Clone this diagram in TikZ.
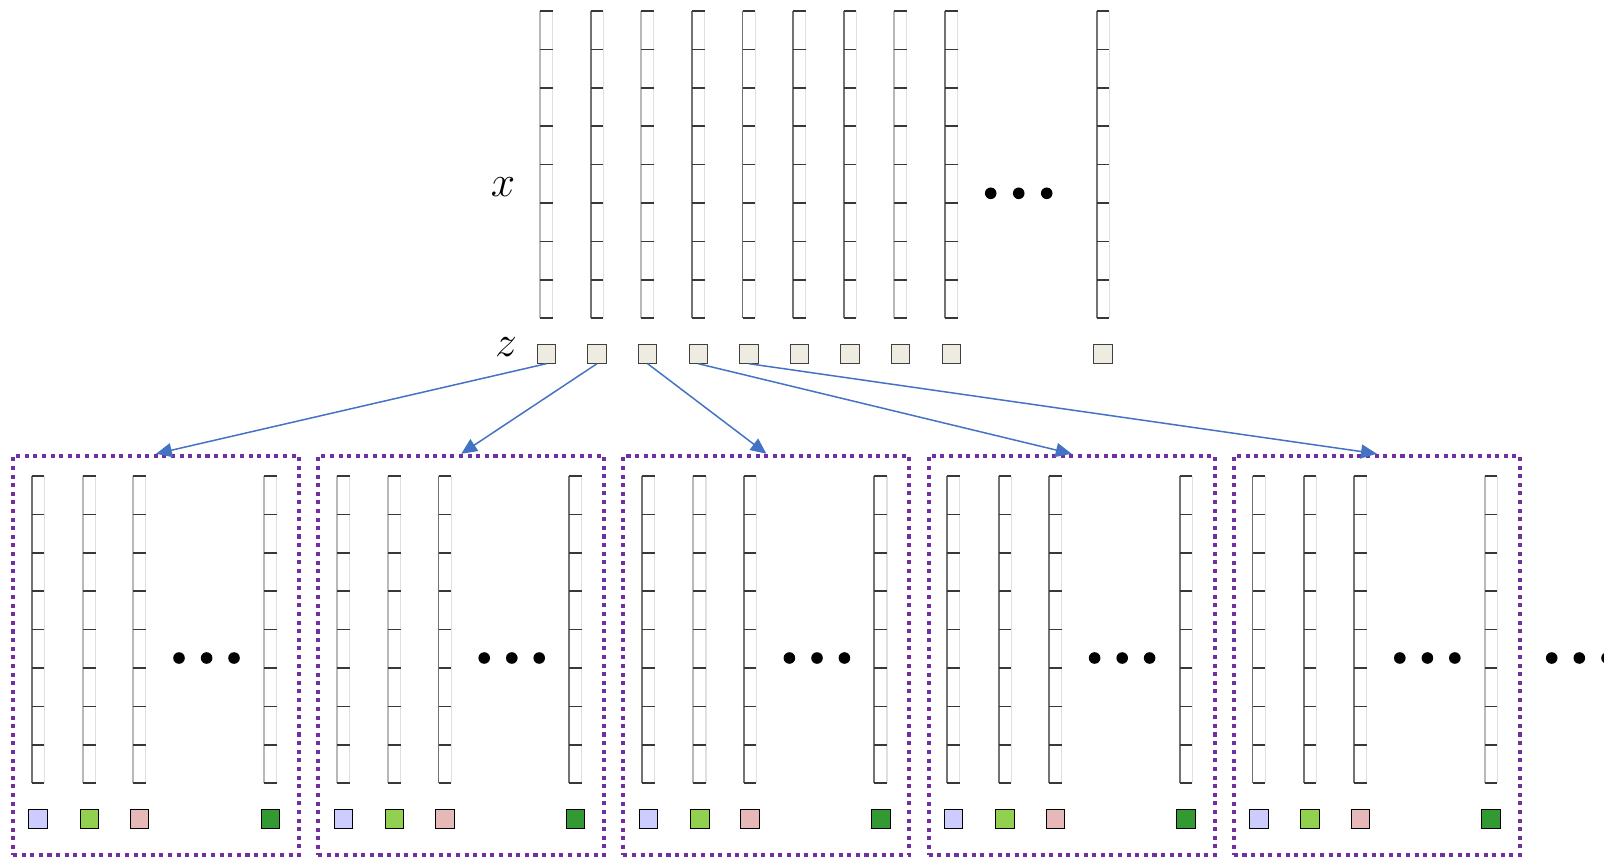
\documentclass[tikz,border=0pt]{standalone}
\usepackage{amsmath}
\usepackage{tikz}
\usetikzlibrary{arrows.meta}
\definecolor{zfill}{RGB}{238,236,225}
\definecolor{arrblue}{RGB}{68,114,196}
\definecolor{boxpurple}{RGB}{112,48,160}
\definecolor{slotA}{RGB}{204,204,255}
\definecolor{slotB}{RGB}{146,208,80}
\definecolor{slotC}{RGB}{230,184,183}
\definecolor{slotD}{RGB}{51,153,51}
\colorlet{edgedk}{black!55}
\colorlet{edgelt}{black!28}

% one column of 8 cells, centre x = #1, top y = #2, left edge colour #3
\newcommand{\datacol}[3]{%
  \draw[black!12, line width=0.6pt] (#1+6.3,#2) -- ++(0,307);
  \draw[#3, line width=1.1pt] (#1-6.3,#2) -- ++(0,307);
  \foreach \r in {0,...,8}
    \draw[black!78, line width=0.95pt] (#1-6.3,#2+\r*38.4) -- ++(12.6,0);
}

\begin{document}
\begin{tikzpicture}[x=0.02cm, y=-0.02cm,
    zsq/.style={draw=black!75, fill=zfill, line width=0.5pt, minimum size=0.37cm, inner sep=0pt},
    slot/.style={draw=black, line width=0.5pt, minimum size=0.37cm, inner sep=0pt},
    groupbox/.style={draw=boxpurple, line width=2.3pt, dash pattern=on 2.3pt off 2.6pt,
        minimum width=5.72cm, minimum height=7.99cm, inner sep=0pt},
    flow/.style={draw=arrblue, line width=0.85pt, -{Triangle[length=9pt, width=8pt]}},
    lbl/.style={font=\fontsize{26}{30}\selectfont}]
    \useasboundingbox (0,0) rectangle (1604,858);

    % input columns and their codes
    \foreach \c/\e [count=\i] in {546.4/edgelt, 597.0/edgedk, 647.6/edgelt, 698.2/edgedk,
        748.8/edgedk, 799.4/edgedk, 850.0/edgedk, 900.6/edgelt, 951.2/edgedk, 1103/edgedk} {
        \datacol{\c}{11}{\e}
        \node[zsq] (z\i) at (\c,354) {};
    }
    \foreach \d in {990.7, 1018.7, 1046.7}
        \fill (\d,193.3) circle (5.8);

    \node[lbl] (xlab) at (503,187) {$x$};
    \node[lbl] (zlab) at (506,347) {$z$};

    % one group per code
    \foreach \b/\ea/\eb/\ec/\ed [evaluate=\b as \l using 13+305.2*(\b-1)] in
        {1/edgedk/edgelt/edgelt/edgelt, 2/edgelt/edgelt/edgedk/edgedk,
         3/edgedk/edgelt/edgedk/edgedk, 4/edgedk/edgedk/edgedk/edgedk,
         5/edgedk/edgedk/edgedk/edgelt} {
        \node[groupbox] (b\b) at (\l+143,655.5) {};
        \datacol{\l+25}{476}{\ea}
        \datacol{\l+76.3}{476}{\eb}
        \datacol{\l+126.6}{476}{\ec}
        \datacol{\l+257.3}{476}{\ed}
        \node[slot, fill=slotA] (s\b a) at (\l+25,819) {};
        \node[slot, fill=slotB] (s\b b) at (\l+76.3,819) {};
        \node[slot, fill=slotC] (s\b c) at (\l+126.6,819) {};
        \node[slot, fill=slotD] (s\b d) at (\l+257.3,819) {};
        \foreach \d in {166, 193.6, 221}
            \fill (\l+\d,658) circle (5.8);
    }
    \foreach \d in {1551.7, 1579.3, 1607}
        \fill (\d,658) circle (5.8);

    \foreach \i in {1,...,5}
        \draw[flow] (z\i.south) -- (b\i.north);
\end{tikzpicture}
\end{document}
